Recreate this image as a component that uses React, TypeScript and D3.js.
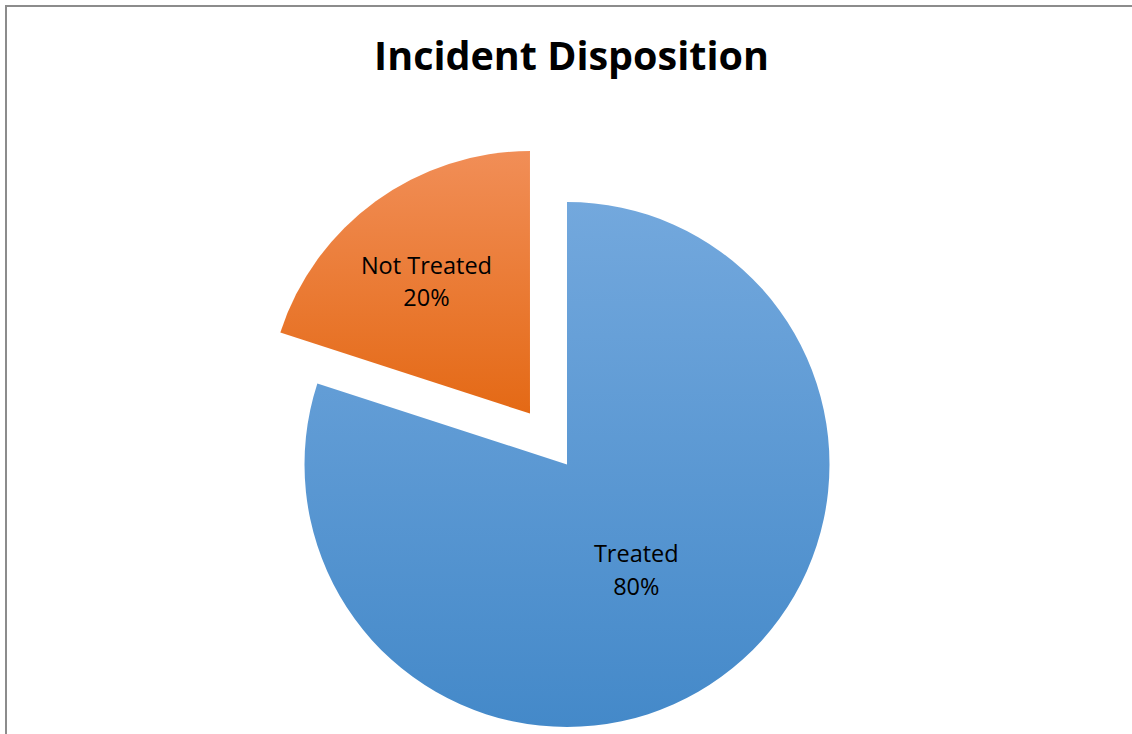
import React from "react";
import * as d3 from "d3";

const categories = ["Treated", "Not Treated"];
const values = [80, 20];
const percentLabels = ["80%", "20%"];
const explode = [0, 63];
const labelRadiusFactor = [0.475, 0.645];
const gradients = [
  ["#73a8dd", "#4489c9"],
  ["#f18e57", "#e46915"],
];

export default function App() {
  const width = 1132;
  const height = 734;
  const cx = 567;
  const cy = 464.5;
  const r = 262.5;

  const pie = d3
    .pie<number>()
    .sort(null)
    .value((d) => d)
    .startAngle(0)
    .endAngle(2 * Math.PI);
  const arcs = pie(values);
  const arc = d3.arc<d3.PieArcDatum<number>>().innerRadius(0).outerRadius(r);

  return (
    <svg
      width={width}
      height={height}
      style={{ position: "absolute", left: 0, top: 0, background: "#fff" }}
    >
      <defs>
        {gradients.map((g, i) => (
          <linearGradient key={i} id={`grad${i}`} x1="0" y1="0" x2="0" y2="1">
            <stop offset="0%" stopColor={g[0]} />
            <stop offset="100%" stopColor={g[1]} />
          </linearGradient>
        ))}
      </defs>
      <rect x={0} y={0} width={width} height={height} fill="#fff" />
      <line x1={6} y1={6} x2={width} y2={6} stroke="#8c8c8c" strokeWidth={2} />
      <line x1={6} y1={5} x2={6} y2={height} stroke="#8c8c8c" strokeWidth={2} />
      <text
        x={571.5}
        y={70}
        textAnchor="middle"
        fontFamily="'Open Sans', sans-serif"
        fontWeight="bold"
        fontSize={39.5}
        fill="#000"
      >
        Incident Disposition
      </text>
      {arcs.map((a, i) => {
        const mid = (a.startAngle + a.endAngle) / 2;
        const dx = Math.sin(mid) * explode[i];
        const dy = -Math.cos(mid) * explode[i];
        const lr = r * labelRadiusFactor[i];
        const lx = Math.sin(mid) * lr - 4;
        const ly = -Math.cos(mid) * lr;
        return (
          <g key={categories[i]} transform={`translate(${cx + dx},${cy + dy})`}>
            <path d={arc(a) || ""} fill={`url(#grad${i})`} />
            <text
              textAnchor="middle"
              fontFamily="'Open Sans', sans-serif"
              fontSize={23.5}
              fill="#000"
            >
              <tspan x={lx} y={ly - 3}>{categories[i]}</tspan>
              <tspan x={lx} y={ly + 29.5}>{percentLabels[i]}</tspan>
            </text>
          </g>
        );
      })}
    </svg>
  );
}
